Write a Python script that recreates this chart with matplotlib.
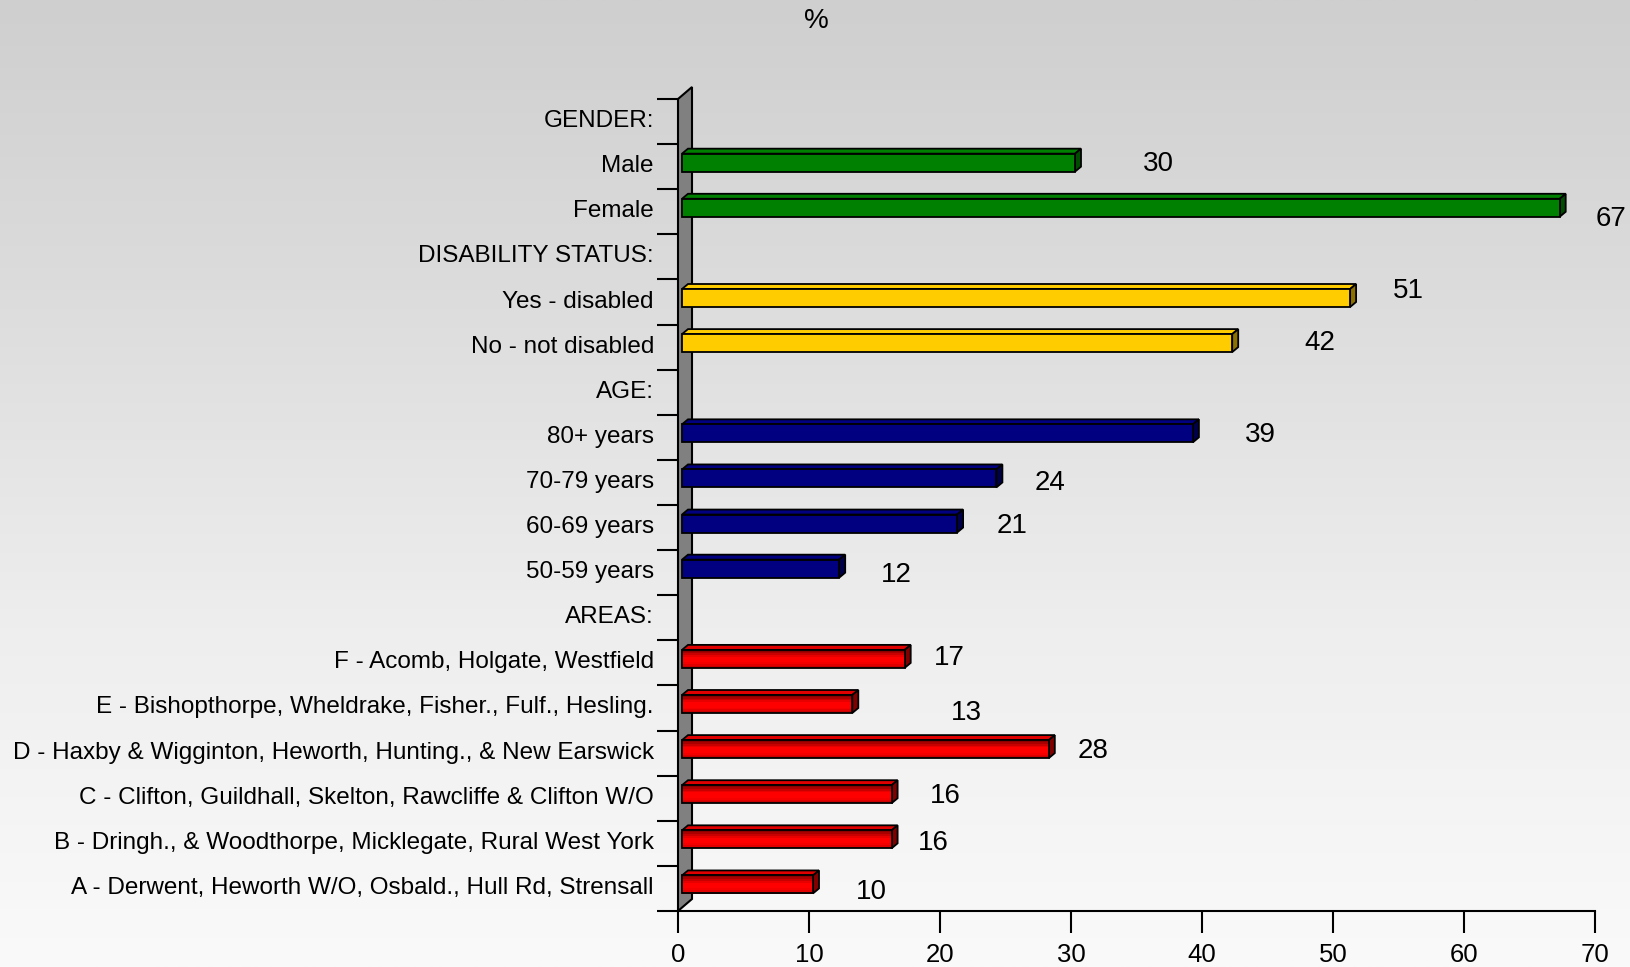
import numpy as np
import matplotlib
matplotlib.use("Agg")
import matplotlib.pyplot as plt
from matplotlib import transforms
from matplotlib.patches import Polygon, Rectangle

plt.rcParams["font.family"] = ["Liberation Sans", "DejaVu Sans"]

# ---- data -------------------------------------------------------------
headers = ["GENDER:", "DISABILITY STATUS:", "AGE:", "AREAS:"]

gender = ["Male", "Female"]
gender_pct = [30, 67]

disability = ["Yes - disabled", "No - not disabled"]
disability_pct = [51, 42]

age = ["80+ years", "70-79 years", "60-69 years", "50-59 years"]
age_pct = [39, 24, 21, 12]

areas = [
    "F - Acomb, Holgate, Westfield",
    "E - Bishopthorpe, Wheldrake, Fisher., Fulf., Hesling.",
    "D - Haxby & Wigginton, Heworth, Hunting., & New Earswick",
    "C - Clifton, Guildhall, Skelton, Rawcliffe & Clifton W/O",
    "B - Dringh., & Woodthorpe, Micklegate, Rural West York",
    "A - Derwent, Heworth W/O, Osbald., Hull Rd, Strensall",
]
areas_pct = [17, 13, 28, 16, 16, 10]

x_ticks = [0, 10, 20, 30, 40, 50, 60, 70]

# ---- styling ------------------------------------------------------------
# (front, top, side) face colours for each section
green = ("#008000", "#008000", "#004c00")
yellow = ("#ffcc00", "#ffcc00", "#8c7000")
navy = ("#000080", "#000080", "#00004a")
red = ("#ff0000", "#e00000", "#800000")
red_bands = ["#8c0000", "#a80000", "#c80000", "#e80000", "#ff0000",
             "#ff0000", "#ff0000", "#f40000", "#e00000", "#c80000"]

# value label nudges in pixels, relative to the bar end (x) / row centre (y, up)
label_dx = [83, 51, 58, 88, 67, 54, 55, 57, 45, 114, 44, 54, 42, 58]
label_dy = [6, -4, 14, 7, 5, 2, 5, 1, 8, -2, 5, 5, 3, -1]

# ---- assemble rows --------------------------------------------------------
rows = []  # (label, value or None, colours, gradient)
for head, names, vals, cols, grad in [
    (headers[0], gender, gender_pct, green, False),
    (headers[1], disability, disability_pct, yellow, False),
    (headers[2], age, age_pct, navy, False),
    (headers[3], areas, areas_pct, red, True),
]:
    rows.append((head, None, None, False))
    for n, v in zip(names, vals):
        rows.append((n, v, cols, grad))
n_rows = len(rows)

# ---- figure ---------------------------------------------------------------
W, H, DPI = 1631, 967, 100
fig = plt.figure(figsize=(W / DPI, H / DPI), dpi=DPI)

bg = fig.add_axes([0, 0, 1, 1], zorder=-10)
stops_y = [0.0, 0.3, 0.65, 1.0]
stops_v = [207, 220, 238, 250]
grad = np.interp(np.linspace(0, 1, 400), stops_y, stops_v) / 255.0
bg.imshow(np.repeat(grad[:, None], 2, axis=1)[:, :, None].repeat(3, axis=2),
          aspect="auto", extent=[0, 1, 0, 1], origin="upper")
bg.set_axis_off()

left_px, right_px, top_px, bottom_px = 678, 1595, 99, 911
ax = fig.add_axes([left_px / W, 1 - bottom_px / H,
                   (right_px - left_px) / W, (bottom_px - top_px) / H])
ax.patch.set_visible(False)
ax.set_xlim(0, 70)
ax.set_ylim(n_rows, 0)

px_x = (right_px - left_px) / 70.0
px_y = (bottom_px - top_px) / n_rows

# back wall with depth
wdx, wdy = 14 / px_x, 12 / px_y
wall = Polygon([(0, n_rows), (0, 0), (wdx, -wdy), (wdx, n_rows - wdy)],
               closed=True, facecolor="#808080", edgecolor="black",
               linewidth=1.5, clip_on=False, zorder=1)
ax.add_patch(wall)

# bars: front face plus top and side faces
shift = transforms.offset_copy(ax.transData, fig=fig, x=4, y=4, units="dots")
bh = 18 / px_y
ddx, ddy = 6 / px_x, 5 / px_y
k = 0
for i, (name, val, cols, is_grad) in enumerate(rows):
    if val is None:
        continue
    c = i + 0.5
    y0, y1 = c - bh / 2, c + bh / 2
    front, topc, side = cols
    ax.add_patch(Polygon([(0, y0), (ddx, y0 - ddy), (val + ddx, y0 - ddy), (val, y0)],
                         closed=True, facecolor=topc, edgecolor="black",
                         linewidth=1.3, transform=shift, zorder=3))
    ax.add_patch(Polygon([(val, y0), (val + ddx, y0 - ddy), (val + ddx, y1 - ddy), (val, y1)],
                         closed=True, facecolor=side, edgecolor="black",
                         linewidth=1.3, transform=shift, zorder=3))
    if is_grad:
        nb = len(red_bands)
        for j, bc in enumerate(red_bands):
            ax.add_patch(Rectangle((0, y0 + j * bh / nb), val, bh / nb * 1.05,
                                   facecolor=bc, edgecolor="none",
                                   transform=shift, zorder=4))
        ax.add_patch(Rectangle((0, y0), val, bh, facecolor="none", edgecolor="black",
                               linewidth=1.3, transform=shift, zorder=5))
    else:
        ax.add_patch(Rectangle((0, y0), val, bh, facecolor=front, edgecolor="black",
                               linewidth=1.3, transform=shift, zorder=4))
    ax.annotate(f"{val}", xy=(val, c), xytext=(4 + label_dx[k], label_dy[k]),
                textcoords="offset pixels", ha="center", va="center_baseline",
                fontsize=20, color="black")
    k += 1

# axes, ticks and labels
for s in ["top", "right", "left"]:
    ax.spines[s].set_visible(False)
ax.spines["bottom"].set_linewidth(1.5)
ax.set_xticks(x_ticks)
ax.tick_params(axis="x", direction="out", length=15.8, width=1.5, pad=7.5,
               labelsize=18.5, colors="black")
ax.set_yticks(np.arange(0, n_rows + 1))
ax.set_yticklabels([])
ax.tick_params(axis="y", which="major", direction="out", length=15, width=1.5)

# category labels, right-aligned just left of the tick stubs
label_tr = transforms.offset_copy(ax.get_yaxis_transform(), fig=fig,
                                  x=-24, y=3, units="dots")
for i, r in enumerate(rows):
    ax.text(0, i + 0.5, r[0], transform=label_tr, ha="right",
            va="center_baseline", fontsize=17.5, color="black")

fig.text(816 / W, 1 - 21 / H, "%", ha="center", va="center", fontsize=20)

fig.savefig("out.png", dpi=DPI)
